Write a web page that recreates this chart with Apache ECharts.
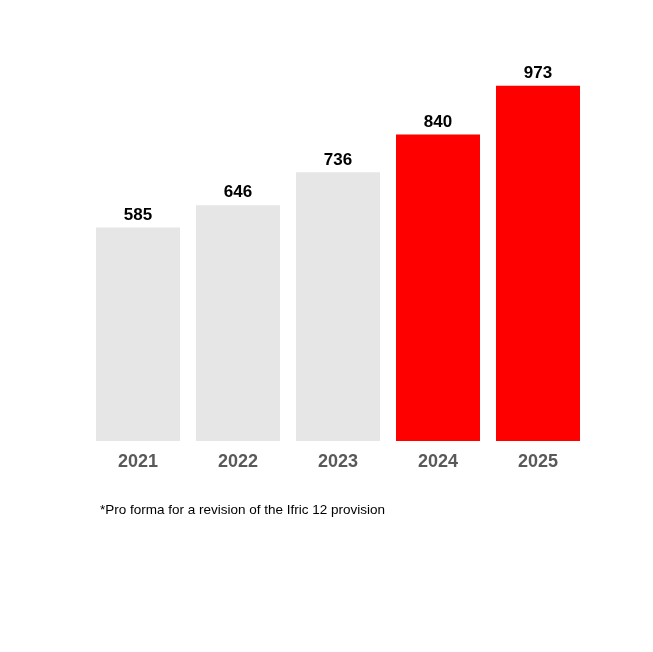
<!DOCTYPE html>
<html>
<head>
<meta charset="utf-8">
<script src="https://cdn.jsdelivr.net/npm/echarts@6/dist/echarts.min.js"></script>
<style>
  html, body { margin: 0; padding: 0; background: #fff; }
  #chart { width: 653px; height: 652px; }
</style>
</head>
<body>
<div id="chart"></div>
<script>
// data
const years = ["2021", "2022", "2023", "2024", "2025"];
const values = [585, 646, 736, 840, 973];
const barColours = ["#e6e6e6", "#e6e6e6", "#e6e6e6", "#ff0000", "#ff0000"];
const footnote = "*Pro forma for a revision of the Ifric 12 provision";

var myChart = echarts.init(document.getElementById("chart"));

var option = {
  backgroundColor: "#fff",
  textStyle: { fontFamily: "Liberation Sans, Arial, sans-serif" },
  grid: { left: 88, right: 65, top: 76, bottom: 211 },
  graphic: [
    {
      type: "text",
      left: 100,
      top: 503,
      style: {
        text: footnote,
        fill: "#000",
        font: "13.5px Liberation Sans, Arial, sans-serif",
      },
    },
  ],
  xAxis: {
    type: "category",
    data: years,
    axisLine: { show: false },
    axisTick: { show: false },
    axisLabel: {
      margin: 12,
      color: "#595959",
      fontSize: 18,
      fontWeight: "bold",
    },
  },
  yAxis: {
    type: "value",
    min: 0,
    max: 1000,
    show: false,
    splitLine: { show: false },
  },
  series: [
    {
      type: "bar",
      barWidth: 84,
      data: values.map((v, i) => ({ value: v, itemStyle: { color: barColours[i] } })),
      label: {
        show: true,
        position: "top",
        distance: 4,
        color: "#000",
        fontSize: 17,
        fontWeight: "bold",
      },
    },
  ],
};

myChart.setOption(option);
</script>
</body>
</html>
